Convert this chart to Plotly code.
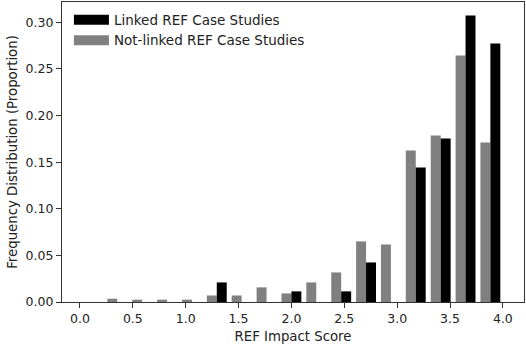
import plotly.graph_objects as go

# Histogram bin centres (17 bins spanning 0..4)
bin_centers = [0.118, 0.353, 0.588, 0.824, 1.059, 1.294, 1.529, 1.765, 2.000,
               2.235, 2.471, 2.706, 2.941, 3.176, 3.412, 3.647, 3.882]
bin_width = 0.2353

linked = [0.0, 0.0, 0.0, 0.0, 0.0, 0.021, 0.0, 0.0, 0.0114,
          0.0, 0.0114, 0.0424, 0.0, 0.1443, 0.1753, 0.3072, 0.2772]
not_linked = [0.0, 0.0035, 0.0025, 0.0025, 0.0025, 0.007, 0.007, 0.0157, 0.0092,
              0.021, 0.0317, 0.065, 0.0617, 0.1625, 0.1786, 0.2643, 0.1711]

series_names = ["Linked REF Case Studies", "Not-linked REF Case Studies"]
series_colors = ["#000000", "#808080"]

x_ticks = [0.0, 0.5, 1.0, 1.5, 2.0, 2.5, 3.0, 3.5, 4.0]
y_ticks = [0.00, 0.05, 0.10, 0.15, 0.20, 0.25, 0.30]

bar_w = 0.4 * bin_width

fig = go.Figure()
fig.add_trace(go.Bar(x=bin_centers, y=not_linked, width=bar_w, offset=-bar_w,
                     marker=dict(color=series_colors[1], line=dict(width=0)),
                     name=series_names[1], showlegend=False))
fig.add_trace(go.Bar(x=bin_centers, y=linked, width=bar_w, offset=0,
                     marker=dict(color=series_colors[0], line=dict(width=0)),
                     name=series_names[0], showlegend=False))
# legend-only entries (wide patches like the original)
for nm, col in zip(series_names, series_colors):
    fig.add_trace(go.Scatter(x=[None], y=[None], mode="lines", name=nm,
                             line=dict(color=col, width=10)))

axis_common = dict(showline=True, linecolor="#333333", linewidth=1.2, mirror=True,
                   ticks="outside", ticklen=5, tickcolor="#333333", tickwidth=1,
                   showgrid=False, zeroline=False, automargin=False,
                   tickfont=dict(family="DejaVu Sans", size=12.5, color="#222222"),
                   title_font=dict(family="DejaVu Sans", size=13.3, color="#222222"))

fig.update_layout(
    width=526, height=344,
    margin=dict(l=62, r=2, t=2, b=42),
    paper_bgcolor="white", plot_bgcolor="white",
    barmode="overlay",
    font=dict(family="DejaVu Sans", color="#222222"),
    xaxis=dict(range=[-0.17, 4.2], tickvals=x_ticks, ticktext=[f"{v:.1f}" for v in x_ticks],
               title=dict(text="REF Impact Score", standoff=7), **axis_common),
    yaxis=dict(range=[0, 0.3218], tickvals=y_ticks, ticktext=[f"{v:.2f}" for v in y_ticks],
               title=dict(text="Frequency Distribution (Proportion)", standoff=4), **axis_common),
    legend=dict(x=0.015, y=0.992, xanchor="left", yanchor="top",
                bgcolor="rgba(255,255,255,0)", borderwidth=0,
                font=dict(family="DejaVu Sans", size=13.5, color="#222222"),
                itemwidth=35, tracegroupgap=0),
)

fig.write_html("out.html", config={"displayModeBar": False},
               post_script="document.body.style.margin='0';document.body.style.padding='0';")
